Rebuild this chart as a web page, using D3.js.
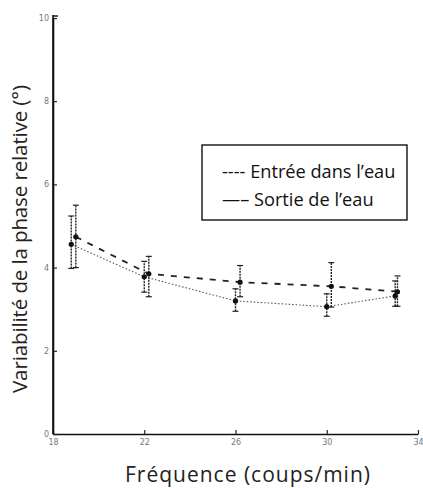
<!DOCTYPE html>
<html><head><meta charset="utf-8">
<script src="https://cdn.jsdelivr.net/npm/d3@7"></script>
<style>body{margin:0;background:#fff}svg{display:block}</style>
</head><body>
<svg id="c" width="423" height="488"></svg>
<script>
const xTicks = [18, 22, 26, 30, 34];
const yTicks = [0, 2, 4, 6, 8, 10];
const entreeX = [19.0, 22.2, 26.2, 30.2, 33.1];
const entreeY = [4.74, 3.85, 3.65, 3.55, 3.42];
const entreeLo = [4.0, 3.3, 3.3, 3.05, 3.07];
const entreeHi = [5.5, 4.27, 4.05, 4.12, 3.8];
const sortieX = [18.8, 22.0, 26.0, 30.0, 33.0];
const sortieY = [4.56, 3.78, 3.2, 3.06, 3.32];
const sortieLo = [3.98, 3.41, 2.95, 2.83, 3.07];
const sortieHi = [5.24, 4.15, 3.49, 3.37, 3.68];
const legendLabels = ["---- Entrée dans l’eau", "—– Sortie de l’eau"];

const svg = d3.select("#c");
const x = d3.scaleLinear().domain([18, 34]).range([53, 418]);
const y = d3.scaleLinear().domain([0, 10]).range([434, 18]);

const ax = svg.append("g").attr("transform", "translate(0,434)")
  .call(d3.axisBottom(x).tickValues(xTicks).tickSize(-4).tickPadding(5).tickSizeOuter(0));
const ay = svg.append("g").attr("transform", "translate(53,0)")
  .call(d3.axisLeft(y).tickValues(yTicks).tickSize(-4).tickPadding(4).tickSizeOuter(0));
[ax, ay].forEach(g => {
  g.select(".domain").attr("stroke", "#111").attr("stroke-width", 1.6);
  g.selectAll(".tick line").attr("stroke", "#222").attr("stroke-width", 1.2);
  g.selectAll(".tick text").attr("fill", "#777").attr("font-size", 8).attr("font-family", "DejaVu Sans");
});
svg.append("line").attr("x1", 53).attr("x2", 53).attr("y1", 15).attr("y2", 434).attr("stroke", "#111").attr("stroke-width", 1.6);
svg.append("line").attr("x1", 53).attr("x2", 58).attr("y1", 16).attr("y2", 16).attr("stroke", "#111").attr("stroke-width", 1.4);

function series(xs, ys, lo, hi, dash, color, width) {
  const pts = xs.map((v, i) => [v, ys[i]]);
  svg.append("path").datum(pts)
    .attr("d", d3.line().x(d => x(d[0])).y(d => y(d[1])))
    .attr("fill", "none").attr("stroke", color).attr("stroke-width", width)
    .attr("stroke-dasharray", dash);
  const g = svg.append("g");
  xs.forEach((v, i) => {
    const cx = x(v);
    g.append("line").attr("x1", cx).attr("x2", cx).attr("y1", y(lo[i])).attr("y2", y(hi[i]))
      .attr("stroke", "#222").attr("stroke-width", 1.4).attr("stroke-dasharray", "2,1");
    [lo[i], hi[i]].forEach(b => g.append("line").attr("x1", cx - 3).attr("x2", cx + 3)
      .attr("y1", y(b)).attr("y2", y(b)).attr("stroke", "#222").attr("stroke-width", 1.2));
    g.append("circle").attr("cx", cx).attr("cy", y(ys[i])).attr("r", 2.6).attr("fill", "#111");
  });
}
series(sortieX, sortieY, sortieLo, sortieHi, "1.5,2", "#555", 1.1);
series(entreeX, entreeY, entreeLo, entreeHi, "6,7", "#222", 1.8);

// legend
svg.append("rect").attr("x", 202).attr("y", 145).attr("width", 205).attr("height", 75)
  .attr("fill", "#fff").attr("stroke", "#111").attr("stroke-width", 1.4);
legendLabels.forEach((t, i) => {
  svg.append("text").attr("x", 222).attr("y", 178 + i * 28).text(t)
    .attr("font-family", "Open Sans").attr("font-size", 18.2).attr("fill", "#111");
});

svg.append("text").attr("x", 125).attr("y", 482)
  .attr("font-family", "Open Sans").attr("font-size", 21).attr("fill", "#222")
  .attr("textLength", 245).attr("lengthAdjust", "spacing")
  .text("Fréquence (coups/min)");
svg.append("text").attr("transform", "translate(27,393) rotate(-90)")
  .attr("font-family", "Open Sans").attr("font-size", 20.5).attr("fill", "#222")
  .attr("textLength", 308).attr("lengthAdjust", "spacing")
  .text("Variabilité de la phase relative (°)");
</script>
</body></html>
